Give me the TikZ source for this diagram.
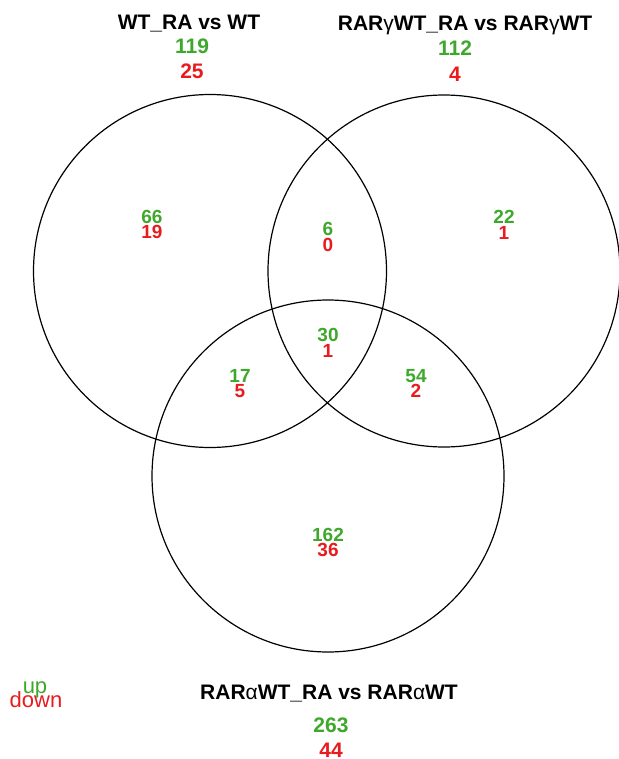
\documentclass[tikz,border=0pt]{standalone}
\usepackage{fontspec}
\setmainfont{Liberation Sans}
\definecolor{upgreen}{RGB}{62,168,44}
\definecolor{downred}{RGB}{232,28,30}
\tikzset{
  venn/.style={draw=black,line width=1.2bp},
  title/.style={anchor=base,inner sep=0pt,font=\fontsize{21bp}{25bp}\selectfont\bfseries},
  bigup/.style={anchor=base,inner sep=0pt,text=upgreen,font=\fontsize{21bp}{25bp}\selectfont\bfseries},
  bigdown/.style={anchor=base,inner sep=0pt,text=downred,font=\fontsize{21bp}{25bp}\selectfont\bfseries},
  cup/.style={anchor=base,inner sep=0pt,text=upgreen,font=\fontsize{19bp}{22bp}\selectfont\bfseries},
  cdown/.style={anchor=base,inner sep=0pt,text=downred,font=\fontsize{19bp}{22bp}\selectfont\bfseries},
  legup/.style={anchor=base,inner sep=0pt,text=upgreen,font=\fontsize{22bp}{25bp}\selectfont},
  legdown/.style={anchor=base,inner sep=0pt,text=downred,font=\fontsize{22bp}{25bp}\selectfont}
}
\begin{document}
\begin{tikzpicture}[x=1bp,y=-1bp]
\useasboundingbox[fill=white] (0,0) rectangle (619,759);
% circles
\draw[venn] (210,271) circle[radius=176.5];
\draw[venn] (444,271) circle[radius=176];
\draw[venn] (328,476) circle[radius=176];
% titles
\node[title] (tA) at (189,30) {WT\_RA vs WT};
\node[title] (tB) at (465,31) {RAR{\mdseries γ}WT\_RA vs RAR{\mdseries γ}WT};
\node[title] (tC) at (329,699) {RAR{\mdseries α}WT\_RA vs RAR{\mdseries α}WT};
% totals
\node[bigup] (uA) at (192,54) {119};
\node[bigdown] (dA) at (192,78) {25};
\node[bigup] (uB) at (455,56) {112};
\node[bigdown] (dB) at (455,81) {4};
\node[bigup] (uC) at (331,732) {263};
\node[bigdown] (dC) at (331,757) {44};
% regions
\node[cup] (u1) at (152,223) {66};
\node[cdown] (d1) at (152,238) {19};
\node[cup] (u2) at (328,235) {6};
\node[cdown] (d2) at (328,251) {0};
\node[cup] (u3) at (504,223) {22};
\node[cdown] (d3) at (504,239) {1};
\node[cup] (u4) at (328,341) {30};
\node[cdown] (d4) at (328,357) {1};
\node[cup] (u5) at (240,382) {17};
\node[cdown] (d5) at (240,397) {5};
\node[cup] (u6) at (416,382) {54};
\node[cdown] (d6) at (416,397) {2};
\node[cup] (u7) at (328,541) {162};
\node[cdown] (d7) at (328,556) {36};
% legend
\node[legup] (lu) at (35,693) {up};
\node[legdown] (ld) at (36,707) {down};
\end{tikzpicture}
\end{document}
